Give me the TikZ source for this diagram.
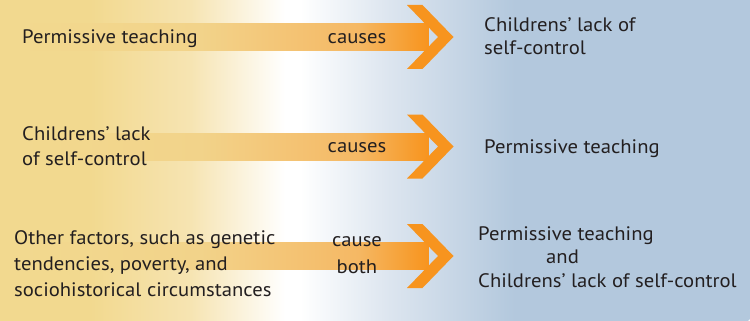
\documentclass[tikz,border=0pt]{standalone}
\usepackage{fontspec}
\setmainfont[FakeStretch=1.06]{PT Sans}
\definecolor{bgY}{HTML}{F2D98F}
\definecolor{bgY2}{HTML}{F6E4B2}
\definecolor{bgB}{HTML}{B3C8DD}
\definecolor{bgB2}{HTML}{DCE5EF}
\definecolor{arrorange}{HTML}{F7941E}
\definecolor{shA}{HTML}{F2D98F}
\definecolor{shB}{HTML}{F2D38A}
\definecolor{shC}{HTML}{F5B864}
\definecolor{txtgray}{HTML}{231F20}
\pgfdeclarehorizontalshading{bgshade}{100bp}{color(0bp)=(bgY); color(31bp)=(bgY); color(37.7bp)=(bgY2); color(44bp)=(white); color(45bp)=(white); color(51bp)=(bgB2); color(59.3bp)=(bgB); color(100bp)=(bgB)}
\pgfdeclarehorizontalshading{shaftshade}{100bp}{color(0bp)=(shA); color(25bp)=(shA); color(47.5bp)=(shB); color(66.5bp)=(shC); color(75bp)=(arrorange); color(100bp)=(arrorange)}
\tikzset{
  txt/.style={inner sep=0pt, text=txtgray, font=\fontsize{19.5}{24.5}\selectfont},
  fatarrow/.pic={
    \shade[shading=shaftshade] (-439.5,-13.5) rectangle (-25,13.5);
    \fill[arrorange] (-46.5,-32) -- (-31,-32) -- (0,0) -- (-31,32) -- (-46.5,32) -- (-15.5,0) -- cycle;
  }
}
\begin{document}
\begin{tikzpicture}[x=1pt,y=-1pt]
\useasboundingbox (0,0) rectangle (750,321);
\fill[white] (0,0) rectangle (750,321);
\shade[shading=bgshade] (0,0) -- (750,0) -- (750,315) .. controls (750,321) .. (744,321) -- (0,321) -- cycle;
% arrows
\coordinate (t1) at (453.5,37);
\coordinate (t2) at (453.5,146.5);
\coordinate (t3) at (453.5,256);
\pic at (t1) {fatarrow};
\pic at (t2) {fatarrow};
\pic at (t3) {fatarrow};
% row 1 (multi-line nodes: base anchor = last line's baseline)
\node[txt, anchor=base west] (l1) at (22,44) {Permissive teaching};
\node[txt, anchor=base] (c1) at (357,44) {causes};
\node[txt, anchor=base west, align=left, font=\fontsize{19.5}{23.4}\selectfont] (r1) at (484,55) {Childrens’ lack of\\self-control};
% row 2
\node[txt, anchor=base west, align=left, font=\fontsize{19.5}{24.3}\selectfont] (l2) at (22,165) {Childrens’ lack\\of self-control};
\node[txt, anchor=base] (c2) at (357,152.3) {causes};
\node[txt, anchor=base west] (r2) at (484,153.3) {Permissive teaching};
% row 3
\node[txt, anchor=base west, align=left, font=\fontsize{19.5}{26.2}\selectfont] (l3) at (14,296.7) {Other factors, such as genetic\\tendencies, poverty, and\\sociohistorical circumstances};
\node[txt, anchor=base, align=center, font=\fontsize{19.5}{26.3}\selectfont] (c3) at (357,273) {cause\\both};
\node[txt, anchor=base west, align=left, font=\fontsize{19.5}{23.6}\selectfont] (r3) at (478,287.3) {Permissive teaching\\\hspace*{68pt}and\\Childrens’ lack of self-control};
\end{tikzpicture}
\end{document}
